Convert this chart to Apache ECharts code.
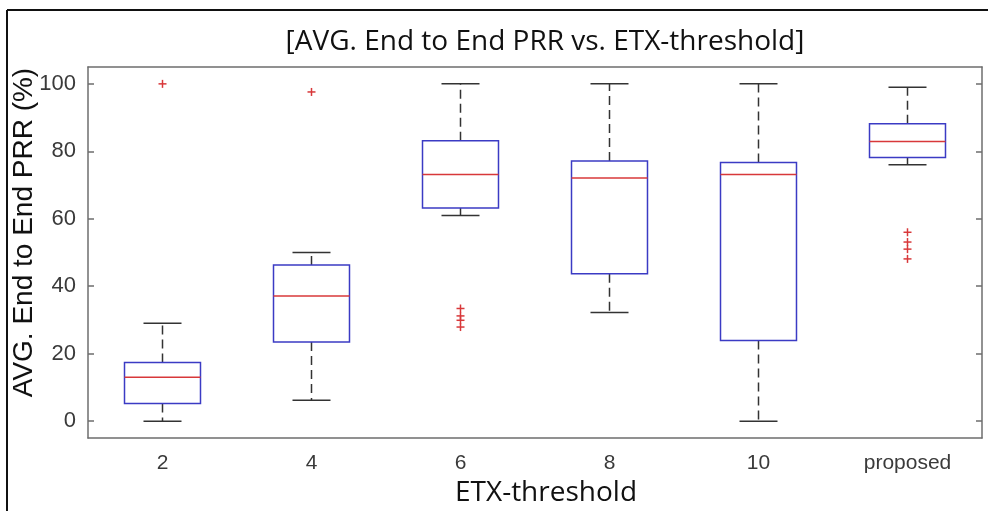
<!DOCTYPE html>
<html>
<head>
<meta charset="utf-8">
<script src="https://cdn.jsdelivr.net/npm/echarts@6/dist/echarts.min.js"></script>
<style>
  html, body { margin: 0; padding: 0; background: #fff; }
  #chart { width: 988px; height: 511px; }
</style>
</head>
<body>
<div id="chart"></div>
<script>
// categories along the x axis
const categories = ["2", "4", "6", "8", "10", "proposed"];
// box stats per category: [lower whisker, Q1, median, Q3, upper whisker]
const lowerWhisker = [0, 6.2, 61, 32.2, 0, 76];
const q1 = [5.2, 23.5, 63.2, 43.7, 23.9, 78.2];
const medians = [13, 37.1, 73.1, 72.1, 73.1, 82.9];
const q3 = [17.4, 46.3, 83.1, 77.1, 76.7, 88.2];
const upperWhisker = [29, 50, 100, 100, 100, 99];
// outliers as [category index, value]
const outliers = [
  [0, 100], [1, 97.6],
  [2, 33.4], [2, 31.2], [2, 29.9], [2, 27.9],
  [5, 56], [5, 53.1], [5, 51], [5, 48.1]
];
const yTicks = [0, 20, 40, 60, 80, 100];

const boxData = categories.map((c, i) => [i, lowerWhisker[i], q1[i], medians[i], q3[i], upperWhisker[i]]);

const chart = echarts.init(document.getElementById("chart"));

function renderBox(params, api) {
  const i = api.value(0);
  const band = api.size([1, 0])[0];
  const half = band * 0.255;
  const cap = half * 0.5;
  const pLo = api.coord([i, api.value(1)]);
  const pQ1 = api.coord([i, api.value(2)]);
  const pMed = api.coord([i, api.value(3)]);
  const pQ3 = api.coord([i, api.value(4)]);
  const pHi = api.coord([i, api.value(5)]);
  const x = pQ1[0];
  const dash = { stroke: "#333", lineWidth: 1.5, lineDash: [9, 5] };
  const solid = { stroke: "#333", lineWidth: 1.5 };
  return {
    type: "group",
    children: [
      { type: "line", shape: { x1: x, y1: pQ3[1], x2: x, y2: pHi[1] }, style: dash },
      { type: "line", shape: { x1: x, y1: pQ1[1], x2: x, y2: pLo[1] }, style: dash },
      { type: "line", shape: { x1: x - cap, y1: pHi[1], x2: x + cap, y2: pHi[1] }, style: solid },
      { type: "line", shape: { x1: x - cap, y1: pLo[1], x2: x + cap, y2: pLo[1] }, style: solid },
      { type: "rect", shape: { x: x - half, y: pQ3[1], width: half * 2, height: pQ1[1] - pQ3[1] },
        style: { fill: "#fff", stroke: "#3b3bc4", lineWidth: 1.5 } },
      { type: "line", shape: { x1: x - half, y1: pMed[1], x2: x + half, y2: pMed[1] },
        style: { stroke: "#d8383a", lineWidth: 1.5 } }
    ]
  };
}

function renderPlus(params, api) {
  const p = api.coord([api.value(0), api.value(1)]);
  const s = 4;
  const st = { stroke: "#d8383a", lineWidth: 1.5 };
  return {
    type: "group",
    children: [
      { type: "line", shape: { x1: p[0] - s, y1: p[1], x2: p[0] + s, y2: p[1] }, style: st },
      { type: "line", shape: { x1: p[0], y1: p[1] - s, x2: p[0], y2: p[1] + s }, style: st }
    ]
  };
}

const axisColor = "#6e6e6e";
const labelColor = "#3a3a3a";

const option = {
  backgroundColor: "#fff",
  animation: false,
  title: {
    text: "[AVG. End to End PRR vs. ETX-threshold]",
    left: 540,
    textAlign: "center",
    top: 23,
    textStyle: { fontFamily: "Open Sans, sans-serif", fontWeight: "normal", fontSize: 28, color: "#111" }
  },
  grid: { left: 88, right: 6, top: 67, bottom: 73, outerBoundsMode: "none", containLabel: false },
  xAxis: [
    {
      type: "category",
      data: categories,
      boundaryGap: true,
      name: "ETX-threshold",
      nameLocation: "middle",
      nameGap: 39,
      nameTextStyle: { fontFamily: "Open Sans, sans-serif", fontSize: 28, color: "#111", padding: [0, 0, 0, 22] },
      axisLine: { onZero: false, lineStyle: { color: axisColor, width: 1.5 } },
      axisTick: { inside: true, length: 6, alignWithLabel: true, lineStyle: { color: axisColor, width: 1.5 } },
      axisLabel: { margin: 15, fontFamily: "Liberation Sans, Arial, sans-serif", fontSize: 21, color: labelColor },
      splitLine: { show: false }
    },
    {
      type: "category",
      data: categories,
      position: "top",
      boundaryGap: true,
      axisLine: { onZero: false, lineStyle: { color: axisColor, width: 1.5 } },
      axisTick: { inside: true, length: 6, alignWithLabel: true, lineStyle: { color: axisColor, width: 1.5 } },
      axisLabel: { show: false },
      splitLine: { show: false }
    }
  ],
  yAxis: [
    {
      type: "value",
      min: -5,
      max: 105,
      name: "AVG. End to End PRR (%)",
      nameLocation: "middle",
      nameGap: 50,
      nameMoveOverlap: false,
      nameTextStyle: { fontFamily: "Liberation Sans, Arial, sans-serif", fontSize: 28, color: "#111", padding: [0, 0, 0, 40] },
      axisLine: { show: true, onZero: false, lineStyle: { color: axisColor, width: 1.5 } },
      axisTick: { show: true, inside: true, length: 6, customValues: yTicks, lineStyle: { color: axisColor, width: 1.5 } },
      axisLabel: { margin: 12, customValues: yTicks, fontFamily: "Liberation Sans, Arial, sans-serif", fontSize: 22, color: labelColor },
      splitLine: { show: false }
    },
    {
      type: "value",
      min: -5,
      max: 105,
      position: "right",
      axisLine: { show: true, onZero: false, lineStyle: { color: axisColor, width: 1.5 } },
      axisTick: { show: true, inside: true, length: 6, customValues: yTicks, lineStyle: { color: axisColor, width: 1.5 } },
      axisLabel: { show: false },
      splitLine: { show: false }
    }
  ],
  graphic: [
    { type: "line", shape: { x1: 7, y1: 10, x2: 988, y2: 10 }, style: { stroke: "#111", lineWidth: 2 } },
    { type: "line", shape: { x1: 7, y1: 10, x2: 7, y2: 511 }, style: { stroke: "#111", lineWidth: 2 } }
  ],
  series: [
    {
      type: "custom",
      renderItem: renderBox,
      data: boxData,
      encode: { x: 0, y: [1, 2, 3, 4, 5] },
      z: 2
    },
    {
      type: "custom",
      renderItem: renderPlus,
      data: outliers,
      encode: { x: 0, y: 1 },
      z: 3
    }
  ]
};

chart.setOption(option);
</script>
</body>
</html>
